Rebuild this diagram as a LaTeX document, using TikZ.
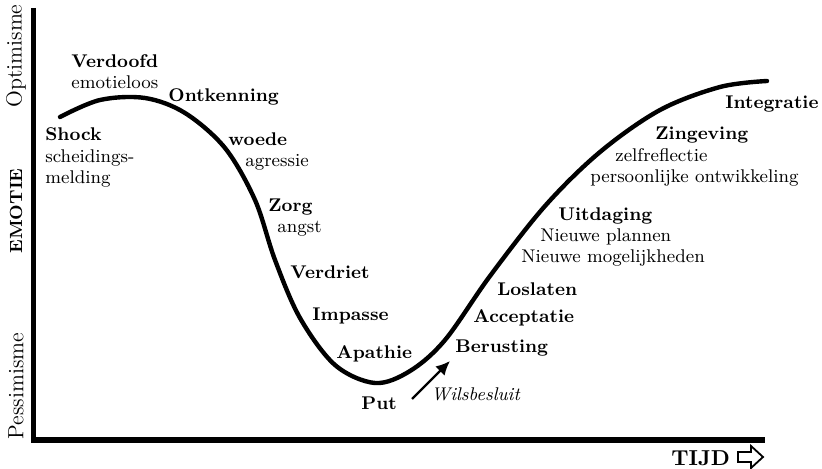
\documentclass[tikz,border=0pt]{standalone}
\usepackage{tikz}
\usetikzlibrary{positioning,arrows.meta}
\tikzset{
  stage/.style={font=\fontsize{9.2}{11}\selectfont\bfseries, inner sep=0pt, anchor=base west},
  sub/.style={font=\fontsize{9.2}{11}\selectfont, inner sep=0pt, anchor=base west},
  axislabel/.style={font=\fontsize{11}{13}\selectfont, rotate=90, inner sep=0pt},
  axisline/.style={line width=2.5pt},
  curve/.style={line width=2.2pt, line cap=round, line join=round},
  will/.style={-{Latex[length=7pt,width=6.5pt]}, line width=1.1pt},
  timearrow/.style={draw, line width=0.9pt, fill=white, line join=miter},
}

\begin{document}
\begin{tikzpicture}[x=0.5pt, y=-0.5pt]
  \useasboundingbox (0,0) rectangle (822,469);

  % axes
  \draw[axisline] (33,8) -- (33,442);
  \draw[axisline, line width=3pt] (31,440) -- (765,440);
  \node[axislabel] (opt) at (16,56) {Optimisme};
  \node[axislabel, font=\fontsize{8.8}{11}\selectfont\bfseries] (emotie) at (16,211) {EMOTIE};
  \node[axislabel] (pess) at (16,386) {Pessimisme};
  \node[stage, font=\fontsize{10.8}{13}\selectfont\bfseries] (tijd) at (671,465) {TIJD};
  \draw[timearrow] (738,452) -- (751,452) -- (751,446) -- (763,457) -- (751,468) -- (751,462) -- (738,462) -- cycle;

  % the curve
  \draw[curve] plot[smooth, tension=0.55] coordinates {
    (60,117) (100,100) (145,98) (185,113) (225,148) (255,200) (275,260)
    (300,318) (335,365) (375,383) (410,371) (445,340) (490,276) (545,206)
    (600,152) (660,110) (720,87) (767,81)};

  % downward phases
  \node[stage] (shock) at (45,141) {Shock};
  \node[sub] (melding1) at (45,163) {scheidings-};
  \node[sub] (melding2) at (45,184) {melding};
  \node[stage] (verdoofd) at (71,68) {Verdoofd};
  \node[sub] (emotieloos) at (71,89) {emotieloos};
  \node[stage] (ontkenning) at (168,102) {Ontkenning};
  \node[stage] (woede) at (228,146) {woede};
  \node[sub] (agressie) at (245,167) {agressie};
  \node[stage] (zorg) at (268,212) {Zorg};
  \node[sub] (angst) at (277,233) {angst};
  \node[stage] (verdriet) at (290,279) {Verdriet};
  \node[stage] (impasse) at (312,321) {Impasse};
  \node[stage] (apathie) at (336,358) {Apathie};
  \node[stage] (put) at (361,409) {Put};

  % turning point
  \coordinate (wstart) at (412,399);
  \coordinate (wend) at (450,361);
  \draw[will] (wstart) -- (wend);
  \node[sub, font=\fontsize{9.2}{11}\selectfont\itshape] (wilsbesluit) at (431,400) {Wilsbesluit};

  % upward phases
  \node[stage] (berusting) at (455,352) {Berusting};
  \node[stage] (acceptatie) at (473,322) {Acceptatie};
  \node[stage] (loslaten) at (497,296) {Loslaten};
  \node[stage] (uitdaging) at (558,221) {Uitdaging};
  \node[sub] (plannen) at (540,242) {Nieuwe plannen};
  \node[sub] (mogelijk) at (521,263) {Nieuwe mogelijkheden};
  \node[stage] (zingeving) at (655,140) {Zingeving};
  \node[sub] (zelfrefl) at (615,162) {zelfreflectie};
  \node[sub] (ontwikk) at (590,183) {persoonlijke ontwikkeling};
  \node[stage] (integratie) at (725,109) {Integratie};
\end{tikzpicture}
\end{document}
